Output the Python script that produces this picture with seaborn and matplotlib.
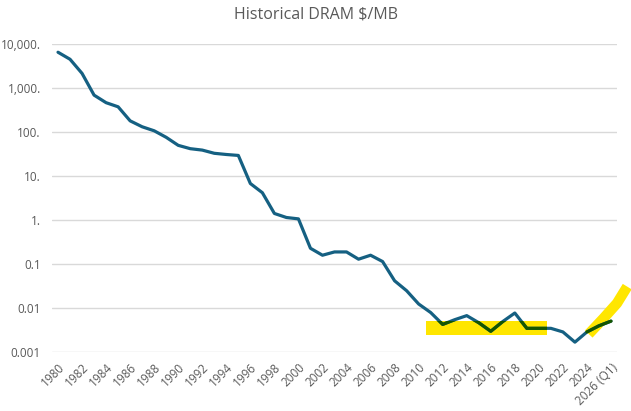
import matplotlib
matplotlib.use("Agg")
import matplotlib.pyplot as plt
import matplotlib.ticker as mticker
from matplotlib.patches import Rectangle
import seaborn as sns
import pandas as pd

# DRAM price per MB (log scale)
years = list(range(1980, 2027))
price = [6500, 4500, 2150, 690, 465, 375, 180, 132, 107, 76,
         50, 42, 39, 33, 31, 29.5, 6.8, 4.2, 1.42, 1.15,
         1.07, 0.23, 0.16, 0.19, 0.19, 0.13, 0.16, 0.115, 0.042, 0.025,
         0.0125, 0.008, 0.0043, 0.0055, 0.0068, 0.0047, 0.0030, 0.0050, 0.0078, 0.0035,
         0.0035, 0.0035, 0.0029, 0.0017, 0.0029, 0.0040, 0.0051]
tick_years = list(range(1980, 2027, 2))
tick_labels = [str(y) for y in tick_years[:-1]] + ["2026 (Q1)"]
ytick_vals = [0.001, 0.01, 0.1, 1, 10, 100, 1000, 10000]
ytick_labels = ["0.001", "0.01", "0.1", "1.", "10.", "100.", "1,000.", "10,000."]

# yellow highlighter marks
band_x = (2010.6, 2020.7)
band_y = (0.00245, 0.0052)
stroke_x = [2024.15, 2025.4, 2026.5, 2027.35]
stroke_y = [0.0026, 0.006, 0.013, 0.031]

df = pd.DataFrame({"year": years, "price": price})

sns.set_style("white")
plt.rcParams["font.family"] = ["Open Sans", "DejaVu Sans"]

line_color = "#156082"
yellow = "#FFE600"
over_color = "#155600"
grey = "#595959"

fig = plt.figure(figsize=(6.31, 4.11), dpi=100)
ax = fig.add_axes([52 / 631, 1 - 352.3 / 411, (617 - 52) / 631, (352.3 - 44) / 411])

sns.lineplot(data=df, x="year", y="price", ax=ax, color=line_color, linewidth=2.3, zorder=3)

# highlighter band and stroke
band = Rectangle((band_x[0], band_y[0]), band_x[1] - band_x[0], band_y[1] - band_y[0],
                 facecolor=yellow, edgecolor="none", zorder=2)
ax.add_patch(band)
ax.plot(stroke_x, stroke_y, color=yellow, linewidth=7.5, solid_capstyle="butt",
        clip_on=False, zorder=2)

# line looks darker green where it passes through the highlighter
over = ax.plot(df["year"], df["price"], color=over_color, linewidth=2.3, zorder=4)[0]
over.set_clip_path(band)
late = df[df["year"] >= 2024]
ax.plot(late["year"], late["price"], color=over_color, linewidth=2.3, zorder=4)

ax.set_yscale("log")
ax.set_ylim(0.001, 10000)
ax.set_xlim(1979.5, 2026.5)
ax.yaxis.set_major_locator(mticker.FixedLocator(ytick_vals))
ax.yaxis.set_major_formatter(mticker.FixedFormatter(ytick_labels))
ax.yaxis.set_minor_locator(mticker.NullLocator())
ax.set_xticks(tick_years)
ax.set_xticklabels(tick_labels, rotation=45, ha="right", rotation_mode="anchor")

ax.grid(axis="y", color="#D9D9D9", linewidth=1)
ax.set_axisbelow(True)
for s in ax.spines.values():
    s.set_visible(False)
ax.tick_params(axis="both", length=0, labelsize=8.5, labelcolor=grey)
ax.tick_params(axis="y", pad=8)
ax.tick_params(axis="x", pad=6)
ax.set_xlabel("")
ax.set_ylabel("")

fig.text(0.5, 1 - 15 / 411, "Historical DRAM $/MB", ha="center", va="center",
         fontsize=11.5, color=grey)

fig.savefig("out.png", dpi=100)
